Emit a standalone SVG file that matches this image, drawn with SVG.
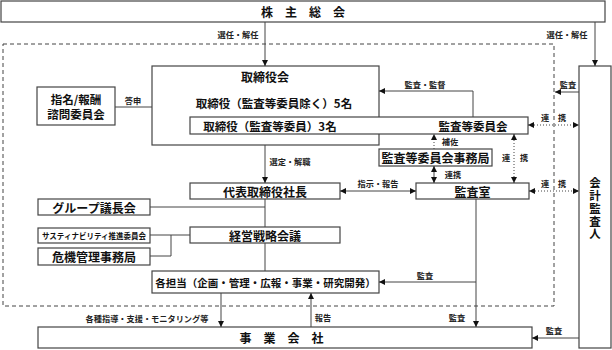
<svg xmlns="http://www.w3.org/2000/svg" width="612" height="350" viewBox="0 0 612 350">
<defs>
<marker id="arr" viewBox="0 0 10 10" refX="10" refY="5" markerWidth="6" markerHeight="6" markerUnits="userSpaceOnUse" orient="auto-start-reverse">
<path d="M0,0 L10,5 L0,10 z" fill="#111"/>
</marker>
</defs>
<style>
.box{fill:#fff;stroke:#444;stroke-width:1.2}
.t{font-family:"Noto Sans CJK JP","Noto Sans",sans-serif;font-weight:700;fill:#111;text-anchor:middle;dominant-baseline:central}
.s{font-family:"Noto Sans CJK JP","Noto Sans",sans-serif;font-weight:700;fill:#222;font-size:8.2px;text-anchor:middle;dominant-baseline:central}
.ln{fill:none;stroke:#444;stroke-width:1}
.dot{fill:none;stroke:#444;stroke-width:1;stroke-dasharray:1,2}
.dash{fill:none;stroke:#444;stroke-width:1;stroke-dasharray:4,3}
</style>
<rect width="612" height="350" fill="#fff"/>
<rect class="dash" x="3" y="44" width="551" height="262"/>

<g id="kabunushi"><rect class="box" x="1" y="1" width="604" height="21"/><text class="t" x="303" y="11.5" font-size="12">株　主　総　会</text></g>
<g id="torishimariyakukai"><rect class="box" x="152" y="66" width="227" height="79"/>
<text class="t" x="265" y="76" font-size="12">取締役会</text>
<text class="t" x="274" y="103" font-size="11.5">取締役（監査等委員除く）5名</text></g>
<g id="kansatou"><rect class="box" x="190" y="117" width="338" height="17"/>
<text class="t" x="270" y="125.5" font-size="11.5">取締役（監査等委員）3名</text>
<text class="t" x="473" y="125.5" font-size="11.5">監査等委員会</text></g>
<g id="shimei"><rect class="box" x="37" y="87" width="78" height="38"/>
<text class="t" x="76" y="98.5" font-size="11.5">指名/報酬</text>
<text class="t" x="76" y="113.5" font-size="11.5">諮問委員会</text></g>
<g id="jimukyoku"><rect class="box" x="379" y="149" width="113" height="17"/><text class="t" x="435.5" y="157.5" font-size="12">監査等委員会事務局</text></g>
<g id="kansashitsu"><rect class="box" x="416" y="183" width="113" height="16"/><text class="t" x="472.5" y="191" font-size="12">監査室</text></g>
<g id="shacho"><rect class="box" x="190" y="183" width="150" height="16"/><text class="t" x="265" y="191" font-size="12">代表取締役社長</text></g>
<g id="group"><rect class="box" x="38" y="199" width="112" height="16"/><text class="t" x="94" y="207" font-size="12">グループ議長会</text></g>
<g id="keiei"><rect class="box" x="190" y="227" width="150" height="16"/><text class="t" x="265" y="235" font-size="12">経営戦略会議</text></g>
<g id="sustain"><rect class="box" x="38" y="228" width="112" height="15"/><text class="t" x="94" y="235.5" font-size="8" textLength="104" lengthAdjust="spacingAndGlyphs">サスティナビリティ推進委員会</text></g>
<g id="kiki"><rect class="box" x="38" y="248" width="112" height="17"/><text class="t" x="94" y="256.5" font-size="12">危機管理事務局</text></g>
<g id="kakutanto"><rect class="box" x="152" y="271" width="227" height="22"/><text class="t" x="265.5" y="282" font-size="10.5">各担当（企画・管理・広報・事業・研究開発）</text></g>
<g id="jigyo"><rect class="box" x="38" y="327" width="494" height="21"/><text class="t" x="281.5" y="337.5" font-size="12">事　業　会　社</text></g>
<g id="kaikei"><rect class="box" x="579" y="66" width="32" height="282"/>
<text class="t" x="595" y="177" font-size="11.5" writing-mode="vertical-rl" letter-spacing="1.3" style="text-anchor:start">会計監査人</text></g>

<g id="connectors">
<line class="ln" x1="265" y1="22" x2="265" y2="66" marker-end="url(#arr)"/>
<line class="ln" x1="595" y1="22" x2="595" y2="66" marker-end="url(#arr)"/>
<line class="ln" x1="115" y1="107" x2="152" y2="107"/>
<polyline class="ln" points="473,117 473,91 379,91" marker-end="url(#arr)"/>
<line class="ln" x1="579" y1="92" x2="555" y2="92" marker-end="url(#arr)"/>
<line class="dot" x1="528" y1="125" x2="579" y2="125" marker-start="url(#arr)" marker-end="url(#arr)"/>
<line class="dot" x1="434" y1="149" x2="434" y2="134" marker-end="url(#arr)"/>
<line class="ln" x1="434" y1="166" x2="434" y2="183" marker-start="url(#arr)" marker-end="url(#arr)"/>
<line class="dot" x1="514" y1="134" x2="514" y2="183" marker-start="url(#arr)" marker-end="url(#arr)"/>
<line class="dot" x1="529" y1="191" x2="579" y2="191" marker-start="url(#arr)" marker-end="url(#arr)"/>
<line class="ln" x1="340" y1="191" x2="416" y2="191" marker-start="url(#arr)" marker-end="url(#arr)"/>
<line class="ln" x1="265" y1="145" x2="265" y2="183" marker-end="url(#arr)"/>
<line class="ln" x1="265" y1="199" x2="265" y2="227"/>
<line class="ln" x1="150" y1="207" x2="265" y2="207"/>
<line class="ln" x1="150" y1="235" x2="190" y2="235"/>
<polyline class="ln" points="171,235 171,256 150,256"/>
<line class="ln" x1="265" y1="243" x2="265" y2="271"/>
<line class="ln" x1="476" y1="199" x2="476" y2="327" marker-end="url(#arr)"/>
<line class="ln" x1="476" y1="282" x2="379" y2="282" marker-end="url(#arr)"/>
<line class="ln" x1="221" y1="293" x2="221" y2="327" marker-end="url(#arr)"/>
<line class="ln" x1="311" y1="327" x2="311" y2="293" marker-end="url(#arr)"/>
<line class="ln" x1="579" y1="338" x2="532" y2="338" marker-end="url(#arr)"/>

<text class="s" x="238" y="34">選任・解任</text>
<text class="s" x="567" y="34">選任・解任</text>
<text class="s" x="133" y="100">答申</text>
<text class="s" x="425" y="84">監査・監督</text>
<text class="s" x="568" y="84">監査</text>
<text class="s" x="545" y="117">連</text>
<text class="s" x="562" y="117">携</text>
<text class="s" x="450" y="141">補佐</text>
<text class="s" x="453" y="174">連携</text>
<text class="s" x="506" y="157">連</text>
<text class="s" x="524" y="157">携</text>
<text class="s" x="545" y="183">連</text>
<text class="s" x="562" y="183">携</text>
<text class="s" x="378" y="183">指示・報告</text>
<text class="s" x="290" y="161">選定・解職</text>
<text class="s" x="425" y="275">監査</text>
<text class="s" x="457" y="317">監査</text>
<text class="s" x="147" y="318">各種指導・支援・モニタリング等</text>
<text class="s" x="323" y="317">報告</text>
<text class="s" x="554" y="330">監査</text>
</g>
</svg>
